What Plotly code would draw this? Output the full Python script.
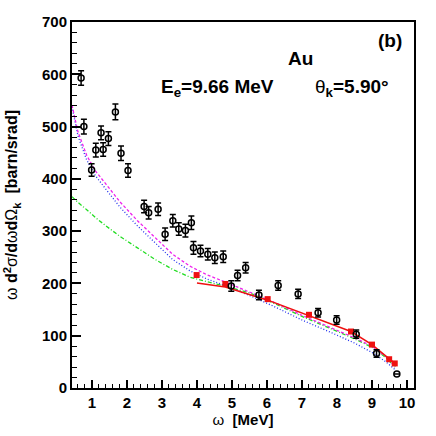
import plotly.graph_objects as go

# measured points (open circles)
data_x = [0.69, 0.77, 0.99, 1.11, 1.26, 1.32, 1.47, 1.67, 1.83, 2.03,
          2.49, 2.62, 2.89, 3.09, 3.31, 3.48, 3.67, 3.84, 3.90, 4.10,
          4.31, 4.51, 4.75, 4.98, 5.16, 5.39, 5.77, 6.32, 6.89, 7.46,
          7.99, 8.55, 9.13, 9.71]
data_y = [593, 500, 417, 455, 488, 456, 477, 528, 449, 416,
          347, 335, 342, 294, 320, 304, 301, 316, 268, 262,
          256, 249, 251, 195, 215, 230, 178, 196, 180, 144,
          130, 103, 66, 27]
data_err = [14, 14, 12, 13, 13, 13, 13, 15, 14, 13,
            12, 12, 12, 12, 12, 12, 12, 13, 12, 11,
            11, 11, 11, 10, 10, 10, 9, 9, 9, 8,
            8, 8, 7, 0]

# calculation (red squares + line)
calc_x = [3.99, 4.81, 6.02, 7.20, 8.40, 9.00, 9.49, 9.65]
calc_y = [216, 199, 170, 140, 108, 83, 55, 47]
line_x = [4.0, 4.81, 6.02, 7.20, 8.40, 9.00, 9.49, 9.65]
line_y = [201, 193, 168, 139, 108, 83, 55, 47]

# other theory curves
curve_x = [0.43, 0.6, 0.85, 1.1, 1.4, 1.8, 2.3, 2.8, 3.3, 3.8,
           4.3, 4.8, 5.5, 6.2, 7.0, 7.8, 8.5, 9.0, 9.4, 9.66]
magenta_y = [541, 490, 445, 415, 390, 356, 320, 287, 256, 233,
             216, 203, 184, 164, 139, 116, 96, 80, 60, 40]
blue_y = [538, 482, 436, 406, 380, 346, 310, 277, 246, 224,
          208, 196, 177, 156, 130, 107, 86, 68, 50, 35]
green_y = [366, 355, 341, 326, 310, 290, 268, 246, 227, 212,
           203, 195, 182, 162, 137, 114, 94, 78, 58, 40]

# plot frame in page pixels
L, R, T, B = 72, 414, 22, 388

fig = go.Figure()
fig.add_trace(go.Scatter(x=curve_x, y=green_y, mode="lines",
                         line=dict(color="#22dd22", width=1.3, dash="4px,2px,1px,2px")))
fig.add_trace(go.Scatter(x=curve_x, y=blue_y, mode="lines",
                         line=dict(color="#2233ee", width=1.3, dash="1px,2px")))
fig.add_trace(go.Scatter(x=curve_x, y=magenta_y, mode="lines",
                         line=dict(color="#ee22ee", width=1.3, dash="3px,2px")))
fig.add_trace(go.Scatter(x=line_x, y=line_y, mode="lines",
                         line=dict(color="#ee1111", width=1.5)))
fig.add_trace(go.Scatter(x=calc_x, y=calc_y, mode="markers",
                         marker=dict(symbol="square", size=6, color="#ee1111")))
fig.add_trace(go.Scatter(x=data_x, y=data_y, mode="markers",
                         marker=dict(symbol="circle-open", size=6, color="black",
                                     line=dict(width=1.5, color="black")),
                         error_y=dict(type="data", array=data_err, color="black",
                                      thickness=1.5, width=3)))

fnt = "Liberation Sans, Arial, sans-serif"
labels = [
    (300, 58, "<b>Au</b>"),
    (217, 88, "<b>E<sub>e</sub>=9.66 MeV</b>"),
    (352, 88, "θ<sub><b>k</b></sub><b>=5.90°</b>"),
    (390, 40, "<b>(b)</b>"),
]
annotations = []
for px, py, txt in labels:
    annotations.append(dict(x=(px - L) / (R - L), y=(B - py) / (B - T),
                            xref="paper", yref="paper", text=txt, showarrow=False,
                            font=dict(family=fnt, size=19, color="black"),
                            xanchor="center", yanchor="middle"))

fig.update_layout(
    width=436, height=436,
    margin=dict(l=L, r=436 - R, t=T, b=436 - B, autoexpand=False),
    paper_bgcolor="white", plot_bgcolor="white",
    showlegend=False,
    font=dict(family=fnt, size=15, color="black"),
    annotations=annotations,
    xaxis=dict(range=[0.43, 10.2], tickmode="linear", tick0=0, dtick=1,
               ticks="inside", ticklen=8, tickwidth=1.5, tickcolor="black",
               minor=dict(dtick=0.2, ticks="inside", ticklen=4, tickwidth=1, tickcolor="black"),
               showline=True, linecolor="black", linewidth=2, mirror=True,
               showgrid=False, zeroline=False, automargin=False,
               tickfont=dict(family=fnt, size=15, weight="bold"),
               title=dict(text="ω  <b>[MeV]</b>", standoff=4,
                          font=dict(family=fnt, size=15))),
    yaxis=dict(range=[0, 700], tickmode="linear", tick0=0, dtick=100,
               ticks="inside", ticklen=9, tickwidth=1.5, tickcolor="black",
               minor=dict(dtick=20, ticks="inside", ticklen=5, tickwidth=1, tickcolor="black"),
               showline=True, linecolor="black", linewidth=2, mirror=True,
               showgrid=False, zeroline=False, automargin=False,
               tickfont=dict(family=fnt, size=15, weight="bold"),
               title=dict(text="ω <b>d<sup>2</sup></b>σ<b>/d</b>ω<b>d</b>Ω<sub><b>k</b></sub>  <b>[barn/srad]</b>",
                          standoff=20, font=dict(family=fnt, size=16))),
)

# page body has a default 8px margin; drop it so the figure sits at 0,0
fig.write_html("out.html", config={"displayModeBar": False},
               post_script="document.body.style.margin='0';")
